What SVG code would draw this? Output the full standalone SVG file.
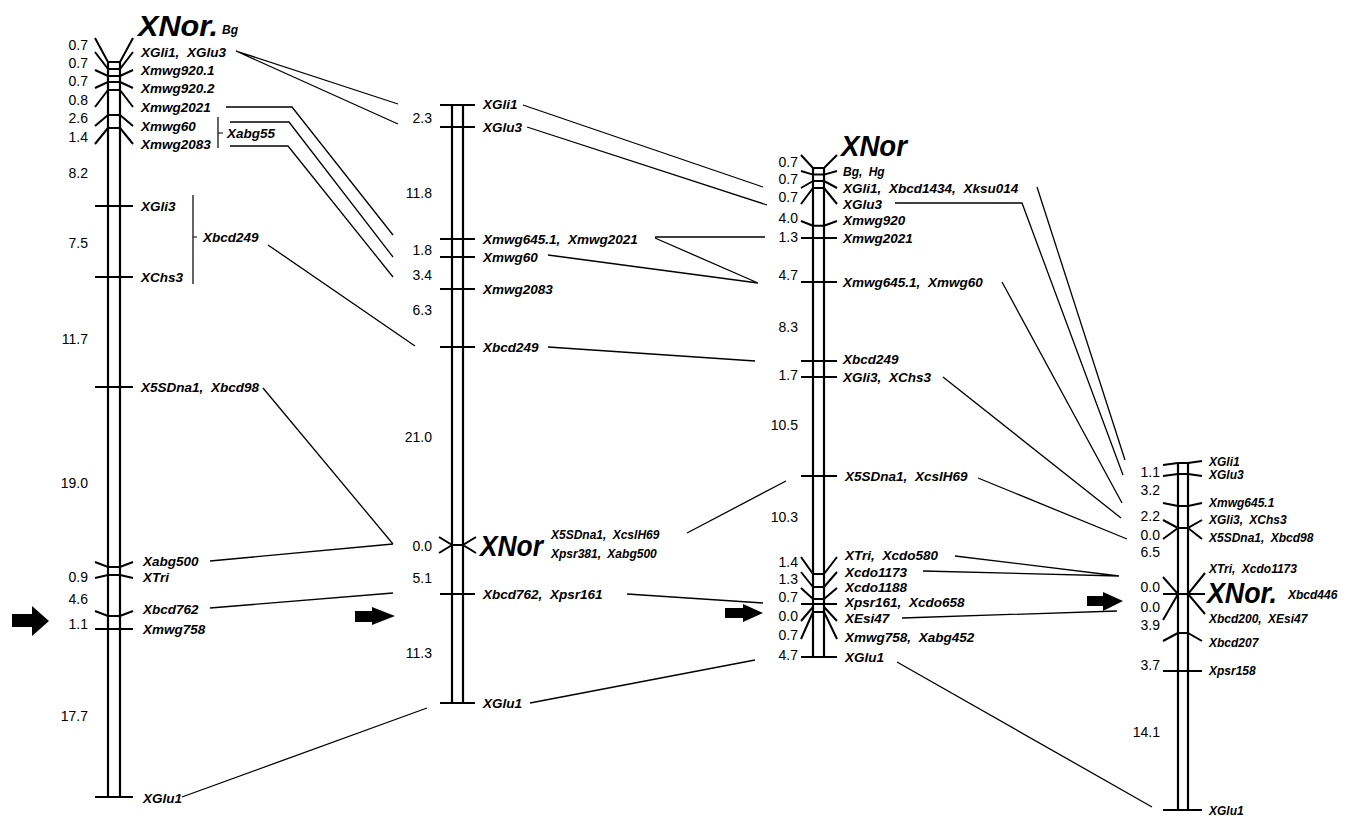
<svg xmlns="http://www.w3.org/2000/svg" width="1350" height="816" viewBox="0 0 1350 816">
<style>
.rail{stroke:#000;stroke-width:2.2;fill:none}
.tick{stroke:#000;stroke-width:2;fill:none}
.conn{stroke:#000;stroke-width:1.3;fill:none}
.brk{stroke:#000;stroke-width:1.2;fill:none}
.lbl{font-family:"Liberation Sans",Arial,sans-serif;font-style:italic;font-weight:bold;font-size:13.5px;word-spacing:4px;fill:#000}
.sm{font-family:"Liberation Sans",Arial,sans-serif;font-style:italic;font-weight:bold;font-size:12px;word-spacing:3px;fill:#000}
.big{font-family:"Liberation Sans",Arial,sans-serif;font-style:italic;font-weight:bold;font-size:29px;fill:#000}
.num{font-family:"Liberation Sans",Arial,sans-serif;font-size:14px;text-anchor:end;fill:#000}
.arr{fill:#000}
</style>
<rect width="1350" height="816" fill="#fff"/>

<g id="chr1">
<path class="rail" d="M108,62V797M120,62V797"/>
<path class="tick" d="M108,62H120M108,69H120M108,76H120M108,82H120M108,90H120M108,115H120M108,128H120"/>
<path class="tick" d="M95,38L108,62M120,62L133,38M95,52L108,69M120,69L133,52M95,70L108,76M120,76L133,70M95,88L108,82M120,82L133,88M95,107L108,90M120,90L133,107M95,126L108,115M120,115L133,126M95,144L108,128M120,128L133,144"/>
<path class="tick" d="M95,206H133M95,277H133M95,387H133M95,562L108,567H120L133,562M95,578L108,575H120L133,578M95,611L108,616H120L133,611M95,629H133M95,797H133"/>
<text class="big" x="138" y="36" textLength="80" lengthAdjust="spacingAndGlyphs">XNor.</text><text class="sm" x="222" y="34">Bg</text>
<text class="lbl" x="141" y="57">XGli1, XGlu3</text>
<text class="lbl" x="141" y="75">Xmwg920.1</text>
<text class="lbl" x="141" y="93">Xmwg920.2</text>
<text class="lbl" x="141" y="112">Xmwg2021</text>
<text class="lbl" x="141" y="131">Xmwg60</text>
<text class="lbl" x="141" y="149">Xmwg2083</text>
<path class="brk" d="M218,117V148M218,133H223"/>
<text class="lbl" x="227" y="138">Xabg55</text>
<text class="lbl" x="141" y="211">XGli3</text>
<text class="lbl" x="141" y="282">XChs3</text>
<path class="brk" d="M193,195V284M193,237H197"/>
<text class="lbl" x="203" y="242">Xbcd249</text>
<text class="lbl" x="141" y="392">X5SDna1, Xbcd98</text>
<text class="lbl" x="143" y="566">Xabg500</text>
<text class="lbl" x="143" y="582">XTri</text>
<text class="lbl" x="143" y="614">Xbcd762</text>
<text class="lbl" x="143" y="634">Xmwg758</text>
<text class="lbl" x="143" y="803">XGlu1</text>
<text class="num" x="88" y="50">0.7</text>
<text class="num" x="88" y="68">0.7</text>
<text class="num" x="88" y="86">0.7</text>
<text class="num" x="88" y="105">0.8</text>
<text class="num" x="88" y="123">2.6</text>
<text class="num" x="88" y="142">1.4</text>
<text class="num" x="88" y="178">8.2</text>
<text class="num" x="88" y="248">7.5</text>
<text class="num" x="88" y="344">11.7</text>
<text class="num" x="88" y="488">19.0</text>
<text class="num" x="88" y="582">0.9</text>
<text class="num" x="88" y="604">4.6</text>
<text class="num" x="88" y="629">1.1</text>
<text class="num" x="88" y="721">17.7</text>
<polygon class="arr" points="12,614 32,614 32,606 49,621 32,636 32,627 12,627"/>
</g>

<g id="chr2">
<path class="rail" d="M452,105V703M463,105V703"/>
<path class="tick" d="M440,105H475M440,127H475M440,239H475M440,257H475M440,289H475M440,347H475M440,594H475M440,703H475M452,545H463"/>
<path class="tick" d="M439,537L452,545L439,553M476,537L463,545L476,553"/>
<text class="lbl" x="483" y="109">XGli1</text>
<text class="lbl" x="483" y="132">XGlu3</text>
<text class="lbl" x="483" y="244">Xmwg645.1, Xmwg2021</text>
<text class="lbl" x="483" y="262">Xmwg60</text>
<text class="lbl" x="483" y="294">Xmwg2083</text>
<text class="lbl" x="483" y="352">Xbcd249</text>
<text class="big" x="480" y="556" textLength="63" lengthAdjust="spacingAndGlyphs">XNor</text>
<text class="sm" x="551" y="539">X5SDna1, XcslH69</text>
<text class="sm" x="551" y="558">Xpsr381, Xabg500</text>
<text class="lbl" x="483" y="599">Xbcd762, Xpsr161</text>
<text class="lbl" x="483" y="708">XGlu1</text>
<text class="num" x="432" y="123">2.3</text>
<text class="num" x="432" y="198">11.8</text>
<text class="num" x="432" y="255">1.8</text>
<text class="num" x="432" y="280">3.4</text>
<text class="num" x="432" y="315">6.3</text>
<text class="num" x="432" y="442">21.0</text>
<text class="num" x="432" y="551">0.0</text>
<text class="num" x="432" y="583">5.1</text>
<text class="num" x="432" y="658">11.3</text>
<polygon class="arr" points="355,611 372,611 372,607 395,616 372,625 372,622 355,622"/>
</g>

<g id="chr3">
<path class="rail" d="M813,168V657M824,168V657"/>
<path class="tick" d="M813,168H824M813,174.6H824M813,181H824M813,188H824M813,225.7H824M813,599H824M813,604H824M813,612H824M813,574H824M813,587H824"/>
<path class="tick" d="M801,155L813,168M824,168L837,155M801,171L813,174.6M824,174.6L837,171M801,188L813,181M824,181L837,188M801,204L813,188M824,188L837,204M801,221L813,225.7M824,225.7L837,221M801,238H837"/>
<path class="tick" d="M801,282H837M801,361H837M801,377H837M801,476H837"/>
<path class="tick" d="M801,557L813,574M824,574L837,557M801,572L813,587M824,587L837,572M801,588L813,599M824,599L837,588M801,604H837M801,621L813,607M824,607L837,621M801,639L813,612M824,612L837,639M801,657H837"/>
<text class="big" x="841" y="156" textLength="66" lengthAdjust="spacingAndGlyphs">XNor</text>
<text class="sm" x="843" y="176">Bg, Hg</text>
<text class="lbl" x="843" y="193">XGli1, Xbcd1434, Xksu014</text>
<text class="lbl" x="843" y="209">XGlu3</text>
<text class="lbl" x="843" y="225">Xmwg920</text>
<text class="lbl" x="843" y="243">Xmwg2021</text>
<text class="lbl" x="843" y="287">Xmwg645.1, Xmwg60</text>
<text class="lbl" x="843" y="364">Xbcd249</text>
<text class="lbl" x="843" y="382">XGli3, XChs3</text>
<text class="lbl" x="845" y="481">X5SDna1, XcslH69</text>
<text class="lbl" x="845" y="560">XTri, Xcdo580</text>
<text class="lbl" x="845" y="577">Xcdo1173</text>
<text class="lbl" x="845" y="592">Xcdo1188</text>
<text class="lbl" x="845" y="607">Xpsr161, Xcdo658</text>
<text class="lbl" x="845" y="623">XEsi47</text>
<text class="lbl" x="845" y="642">Xmwg758, Xabg452</text>
<text class="lbl" x="845" y="662">XGlu1</text>
<text class="num" x="798" y="167">0.7</text>
<text class="num" x="798" y="184">0.7</text>
<text class="num" x="798" y="202">0.7</text>
<text class="num" x="798" y="223">4.0</text>
<text class="num" x="798" y="242">1.3</text>
<text class="num" x="798" y="280">4.7</text>
<text class="num" x="798" y="332">8.3</text>
<text class="num" x="798" y="380">1.7</text>
<text class="num" x="798" y="430">10.5</text>
<text class="num" x="798" y="522">10.3</text>
<text class="num" x="798" y="567">1.4</text>
<text class="num" x="798" y="584">1.3</text>
<text class="num" x="798" y="602">0.7</text>
<text class="num" x="798" y="621">0.0</text>
<text class="num" x="798" y="640">0.7</text>
<text class="num" x="798" y="660">4.7</text>
<polygon class="arr" points="725,608 743,608 743,604 763,613 743,622 743,618 725,618"/>
</g>

<g id="chr4">
<path class="rail" d="M1178,463V810M1188,463V810"/>
<path class="tick" d="M1178,463H1188M1178,474H1188M1178,506H1188M1178,528H1188M1178,594H1188M1178,633H1188"/>
<path class="tick" d="M1163,465L1178,463M1188,463L1202,461M1163,476L1178,474M1188,474L1202,476M1163,503L1178,506M1188,506L1202,503M1163,520L1178,528L1163,539M1202,520L1188,528L1202,539M1163,577L1178,594L1163,620M1163,594H1178M1205,573L1188,594L1205,614M1188,594H1205M1163,641L1178,633M1188,633L1202,641M1163,671H1202M1163,810H1202"/>
<text class="sm" x="1209" y="466">XGli1</text>
<text class="sm" x="1209" y="479">XGlu3</text>
<text class="sm" x="1209" y="507">Xmwg645.1</text>
<text class="sm" x="1209" y="524">XGli3, XChs3</text>
<text class="sm" x="1209" y="542">X5SDna1, Xbcd98</text>
<text class="sm" x="1209" y="573">XTri, Xcdo1173</text>
<text class="big" x="1207" y="603" textLength="70" lengthAdjust="spacingAndGlyphs">XNor.</text>
<text class="sm" x="1288" y="599">Xbcd446</text>
<text class="sm" x="1209" y="623">Xbcd200, XEsi47</text>
<text class="sm" x="1209" y="647">Xbcd207</text>
<text class="sm" x="1209" y="675">Xpsr158</text>
<text class="sm" x="1209" y="815">XGlu1</text>
<text class="num" x="1160" y="477">1.1</text>
<text class="num" x="1160" y="495">3.2</text>
<text class="num" x="1160" y="521">2.2</text>
<text class="num" x="1160" y="540">0.0</text>
<text class="num" x="1160" y="557">6.5</text>
<text class="num" x="1160" y="592">0.0</text>
<text class="num" x="1160" y="612">0.0</text>
<text class="num" x="1160" y="630">3.9</text>
<text class="num" x="1160" y="670">3.7</text>
<text class="num" x="1160" y="737">14.1</text>
<polygon class="arr" points="1087,596 1103,596 1103,592 1123,601 1103,611 1103,606 1087,606"/>
</g>

<g id="connectors">
<path class="conn" d="M236,51L398,104M236,51L398,124"/>
<path class="conn" d="M226,107H292L393,235M230,122H289L393,257M230,146H288L393,277"/>
<path class="conn" d="M268,245L415,346M263,388L393,544M210,561L393,544M210,608L393,593M182,797L427,708"/>
<path class="conn" d="M523,105L763,187M527,127L767,205M655,237H765M655,238L758,283M548,255L758,283M548,347L755,361M687,533L786,481M627,594L763,603M530,703L755,660"/>
<path class="conn" d="M1037,187L1125,460M895,203H1022L1123,475M1002,282L1122,503M943,377L1121,518M978,478L1127,539M955,556L1119,576M923,571L1119,576M902,618L1117,611M897,662L1152,807"/>
</g>
</svg>
